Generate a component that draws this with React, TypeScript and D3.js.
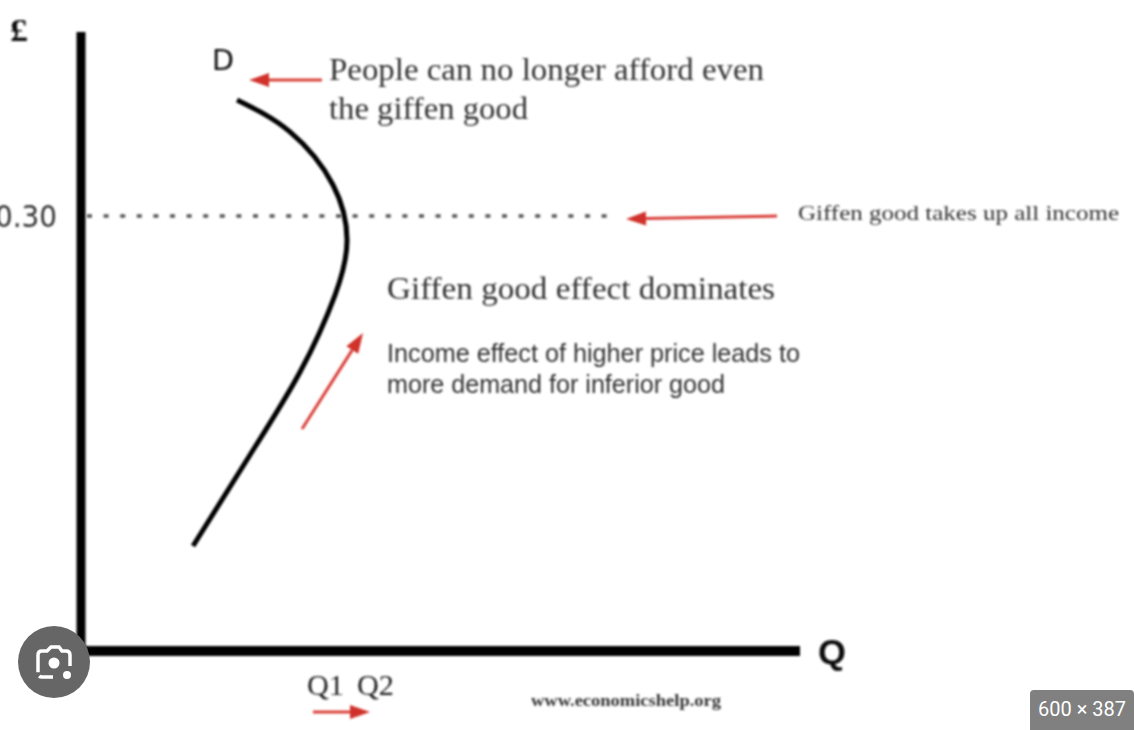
import { useEffect, useRef } from "react";
import * as d3 from "d3";

const WIDTH = 1134;
const HEIGHT = 730;

// Demand curve, from the top end down
const demandQuantity = [21.7, 29.07, 35.05, 37.0, 35.33, 30.46, 23.5, 15.58];
const demandPrice = [0.38, 0.358, 0.3214, 0.2834, 0.2455, 0.1924, 0.1352, 0.0724];

const giffenPrice = 0.3;
const giffenPriceLabel = "0.30";
const dottedEndQuantity = 73.6;
const axisLabels = { price: "£", quantity: "Q", demand: "D" };
const quantityTicks = ["Q1", "Q2"];

const App = () => {
  const svgRef = useRef<SVGSVGElement>(null);

  useEffect(() => {
    const svg = d3.select(svgRef.current);
    svg.selectAll("*").remove();

    const xScale = d3.scaleLinear().domain([0, 100]).range([81, 800]);
    const yScale = d3.scaleLinear().domain([0, 0.3]).range([651, 216]);

    // The reference is an upscaled thumbnail, so everything but the badges is soft
    const defs = svg.append("defs");
    defs
      .append("filter")
      .attr("id", "soft")
      .attr("filterUnits", "userSpaceOnUse")
      .attr("x", 0)
      .attr("y", 0)
      .attr("width", WIDTH)
      .attr("height", HEIGHT)
      .append("feGaussianBlur")
      .attr("stdDeviation", 1.3);

    svg.append("rect").attr("width", WIDTH).attr("height", HEIGHT).attr("fill", "#fff");

    const g = svg.append("g").attr("filter", "url(#soft)");

    // Axes
    g.append("line")
      .attr("x1", xScale(0))
      .attr("x2", xScale(0))
      .attr("y1", 32)
      .attr("y2", yScale(0) + 5)
      .attr("stroke", "#000")
      .attr("stroke-width", 9);
    g.append("line")
      .attr("x1", xScale(0) - 4)
      .attr("x2", xScale(100))
      .attr("y1", yScale(0))
      .attr("y2", yScale(0))
      .attr("stroke", "#000")
      .attr("stroke-width", 10);

    // Dotted price line
    g.append("line")
      .attr("x1", xScale(0) + 6)
      .attr("x2", xScale(dottedEndQuantity))
      .attr("y1", yScale(giffenPrice))
      .attr("y2", yScale(giffenPrice))
      .attr("stroke", "#555")
      .attr("stroke-width", 3.5)
      .attr("stroke-dasharray", "5 11.6");

    // Demand curve
    const line = d3
      .line<number>()
      .x((d) => xScale(d))
      .y((_, i) => yScale(demandPrice[i]))
      .curve(d3.curveNatural);
    g.append("path")
      .attr("d", line(demandQuantity))
      .attr("fill", "none")
      .attr("stroke", "#000")
      .attr("stroke-width", 5);

    // Red arrows
    const arrow = (x1: number, y1: number, x2: number, y2: number, w = 3) => {
      const angle = Math.atan2(y2 - y1, x2 - x1);
      const head = 20;
      const bx = x2 - head * Math.cos(angle);
      const by = y2 - head * Math.sin(angle);
      g.append("line")
        .attr("x1", x1)
        .attr("y1", y1)
        .attr("x2", bx)
        .attr("y2", by)
        .attr("stroke", "#d9403a")
        .attr("stroke-width", w);
      const nx = -Math.sin(angle) * 7;
      const ny = Math.cos(angle) * 7;
      g.append("path")
        .attr("d", `M${x2},${y2}L${bx + nx},${by + ny}L${bx - nx},${by - ny}Z`)
        .attr("fill", "#d0312a");
    };
    arrow(322, 80, 249, 80);
    arrow(777, 216, 626, 219);
    arrow(302, 429, 363, 333);
    arrow(313, 712, 370, 712);

    // Text
    const label = (
      text: string,
      x: number,
      y: number,
      size: number,
      family: string,
      fill: string,
      length?: number,
      anchor = "start",
      weight = "normal"
    ) => {
      const t = g
        .append("text")
        .attr("x", x)
        .attr("y", y)
        .attr("font-family", family)
        .attr("font-size", size)
        .attr("font-weight", weight)
        .attr("fill", fill)
        .attr("text-anchor", anchor)
        .text(text);
      if (length) t.attr("textLength", length).attr("lengthAdjust", "spacingAndGlyphs");
    };
    const serif = "'Liberation Serif', serif";
    const sans = "'Liberation Sans', sans-serif";
    const dejavu = "'DejaVu Sans', sans-serif";

    label(axisLabels.price, 10, 41, 31, serif, "#111", 18, "start", "bold");
    label(axisLabels.demand, 212, 70, 29, dejavu, "#111", 22);
    label(axisLabels.quantity, 818, 664, 35, sans, "#111", 28, "start", "bold");
    label(giffenPriceLabel, 57, 227, 30, dejavu, "#333", 62, "end");

    label("People can no longer afford even", 329, 80, 32, serif, "#333", 435);
    label("the giffen good", 329, 119, 32, serif, "#333", 199);
    label("Giffen good takes up all income", 798, 220, 22, serif, "#333", 321);
    label("Giffen good effect dominates", 387, 299, 31, serif, "#333", 388);
    label("Income effect of higher price leads to", 387, 362, 25, sans, "#333", 413);
    label("more demand for inferior good", 387, 393, 25, sans, "#333", 338);
    label(quantityTicks[0], 307, 695, 30, serif, "#222", 37);
    label(quantityTicks[1], 357, 695, 30, serif, "#222", 37);
    label("www.economicshelp.org", 531, 706, 17, serif, "#333", 190, "start", "bold");

    // Lens button, bottom left
    const lens = svg.append("g").attr("transform", "translate(54,662)");
    lens.append("circle").attr("r", 36).attr("fill", "#666");
    lens
      .append("path")
      .attr("d", "M-1,15H-12Q-16,15 -16,11V-7Q-16,-11 -12,-11H-7L-3,-15H5L8,-11H12Q16,-11 16,-7V4")
      .attr("fill", "none")
      .attr("stroke", "#fff")
      .attr("stroke-width", 3.5)
      .attr("stroke-dasharray", "14 4 60 0");
    lens.append("circle").attr("cy", 1).attr("r", 5.5).attr("fill", "#fff");
    lens.append("circle").attr("cx", 13).attr("cy", 13).attr("r", 4).attr("fill", "#fff");

    // Image size badge, bottom right
    svg
      .append("path")
      .attr("d", "M1030,730V694Q1030,690 1034,690H1130Q1134,690 1134,694V730Z")
      .attr("fill", "#808080");
    svg
      .append("text")
      .attr("x", 1082)
      .attr("y", 716)
      .attr("text-anchor", "middle")
      .attr("font-family", "Roboto, sans-serif")
      .attr("font-size", 20)
      .attr("fill", "#fff")
      .text("600 × 387");
  }, []);

  return (
    <svg
      ref={svgRef}
      width={WIDTH}
      height={HEIGHT}
      style={{ position: "absolute", left: 0, top: 0, display: "block" }}
    ></svg>
  );
};

export default App;
